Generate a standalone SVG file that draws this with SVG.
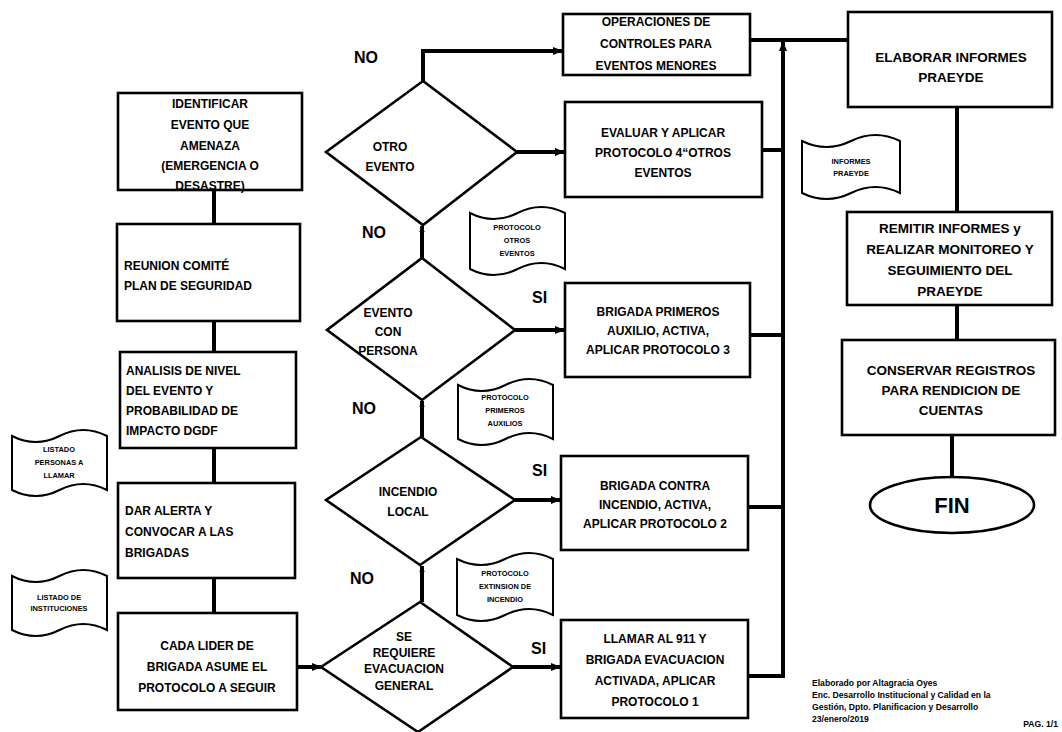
<svg xmlns="http://www.w3.org/2000/svg" width="1062" height="732" viewBox="0 0 1062 732">
<defs>
<marker id="ah" markerUnits="userSpaceOnUse" markerWidth="10" markerHeight="10" viewBox="0 0 10 10" refX="9" refY="5" orient="auto"><path d="M0,1 L10,5 L0,9 Z" fill="#000"/></marker>
<marker id="as" markerUnits="userSpaceOnUse" markerWidth="7" markerHeight="7" viewBox="0 0 10 10" refX="9" refY="5" orient="auto"><path d="M0,1 L10,5 L0,9 Z" fill="#000"/></marker>
</defs>
<style>
.box{fill:#fff;stroke:#000;stroke-width:2.6}
.doc{fill:#fff;stroke:#000;stroke-width:2}
.t{font-family:"Liberation Sans",Arial,sans-serif;font-weight:bold;font-size:12px;fill:#000}
.tm{text-anchor:middle}
.tr{font-family:"Liberation Sans",Arial,sans-serif;font-weight:bold;font-size:13.5px;fill:#000;text-anchor:middle}
.d{font-family:"Liberation Sans",Arial,sans-serif;font-weight:bold;font-size:7.4px;fill:#000;text-anchor:middle}
.lab{font-family:"Liberation Sans",Arial,sans-serif;font-weight:bold;font-size:16px;fill:#000}
.c{fill:none;stroke:#000;stroke-width:4}
.ca{fill:none;stroke:#000;stroke-width:4;marker-end:url(#ah)}
.cs{fill:none;stroke:#000;stroke-width:4;marker-end:url(#as)}
.f{font-family:"Liberation Sans",Arial,sans-serif;font-weight:bold;font-size:8.6px;fill:#000}
</style>
<rect width="1062" height="732" fill="#fff"/>

<g id="connectors">
<line class="c" x1="214" y1="190" x2="214" y2="224"/>
<line class="c" x1="214" y1="321" x2="214" y2="352"/>
<line class="c" x1="214" y1="448" x2="214" y2="483"/>
<line class="c" x1="214" y1="578" x2="214" y2="613"/>
<line class="ca" x1="297" y1="667" x2="321" y2="667"/>
<line class="cs" x1="422" y1="602" x2="422" y2="566"/>
<line class="cs" x1="422" y1="437" x2="422" y2="401"/>
<line class="cs" x1="422" y1="258" x2="422" y2="226"/>
<polyline class="ca" points="423,81 423,51 562,51"/>
<line class="ca" x1="517" y1="152" x2="564" y2="152"/>
<line class="ca" x1="515" y1="330" x2="564" y2="330"/>
<line class="ca" x1="515" y1="500" x2="560" y2="500"/>
<line class="ca" x1="513" y1="667" x2="560" y2="667"/>
<line class="c" x1="750" y1="40" x2="848" y2="40"/>
<line class="ca" x1="783" y1="678" x2="783" y2="42"/>
<line class="c" x1="762" y1="150" x2="783" y2="150"/>
<line class="c" x1="750" y1="335" x2="783" y2="335"/>
<line class="c" x1="748" y1="507" x2="783" y2="507"/>
<line class="c" x1="748" y1="676" x2="785" y2="676"/>
<line class="c" x1="957" y1="107" x2="957" y2="212"/>
<line class="c" x1="957" y1="305" x2="957" y2="340"/>
<line class="c" x1="952" y1="435" x2="952" y2="477"/>
</g>

<g id="identificar">
<rect class="box" x="118" y="93" width="184" height="97"/>
<text class="t tm" x="210" y="108">IDENTIFICAR</text>
<text class="t tm" x="210" y="129">EVENTO  QUE</text>
<text class="t tm" x="210" y="150">AMENAZA</text>
<text class="t tm" x="210" y="170">(EMERGENCIA O</text>
<text class="t tm" x="210" y="190">DESASTRE)</text>
</g>
<g id="reunion">
<rect class="box" x="117" y="224" width="183" height="97"/>
<text class="t" x="124" y="270">REUNION COMITÉ</text>
<text class="t" x="124" y="290">PLAN DE SEGURIDAD</text>
</g>
<g id="analisis">
<rect class="box" x="120" y="352" width="176" height="96"/>
<text class="t" x="126" y="375">ANALISIS DE NIVEL</text>
<text class="t" x="126" y="395">DEL EVENTO Y</text>
<text class="t" x="126" y="415">PROBABILIDAD DE</text>
<text class="t" x="126" y="435">IMPACTO DGDF</text>
</g>
<g id="dar-alerta">
<rect class="box" x="118" y="483" width="177" height="95"/>
<text class="t" x="125" y="515">DAR ALERTA Y</text>
<text class="t" x="125" y="536">CONVOCAR  A LAS</text>
<text class="t" x="125" y="557">BRIGADAS</text>
</g>
<g id="cada-lider">
<rect class="box" x="118" y="613" width="179" height="97"/>
<text class="t tm" x="207" y="650">CADA LIDER DE</text>
<text class="t tm" x="207" y="671">BRIGADA ASUME EL</text>
<text class="t tm" x="207" y="692">PROTOCOLO A SEGUIR</text>
</g>

<g id="doc-listado-personas">
<path class="doc" d="M12,436 Q35.75,448 59.5,436 T107,436 L107,490 Q83.25,478 59.5,490 T12,490 Z"/>
<text class="d" x="59" y="452">LISTADO</text>
<text class="d" x="59" y="465">PERSONAS A</text>
<text class="d" x="59" y="478">LLAMAR</text>
</g>
<g id="doc-listado-instituciones">
<path class="doc" d="M12,576 Q35.75,588 59.5,576 T107,576 L107,630 Q83.25,618 59.5,630 T12,630 Z"/>
<text class="d" x="59" y="600">LISTADO DE</text>
<text class="d" x="59" y="611">INSTITUCIONES</text>
</g>

<g id="otro-evento">
<polygon class="box" points="423,81 517,152 423,225 326,152"/>
<text class="t tm" x="390" y="151">OTRO</text>
<text class="t tm" x="390" y="171">EVENTO</text>
</g>
<g id="evento-persona">
<polygon class="box" points="422,258 515,330 422,400 327,330"/>
<text class="t tm" x="388" y="317">EVENTO</text>
<text class="t tm" x="388" y="336">CON</text>
<text class="t tm" x="388" y="355">PERSONA</text>
</g>
<g id="incendio-local">
<polygon class="box" points="421,437 515,500 420,565 326,500"/>
<text class="t tm" x="408" y="496">INCENDIO</text>
<text class="t tm" x="408" y="516">LOCAL</text>
</g>
<g id="evacuacion">
<polygon class="box" points="420,602 513,667 418,732 321,667"/>
<text class="t tm" x="404" y="641">SE</text>
<text class="t tm" x="404" y="657">REQUIERE</text>
<text class="t tm" x="404" y="673">EVACUACION</text>
<text class="t tm" x="404" y="690">GENERAL</text>
</g>

<g id="labels">
<text class="lab" x="354" y="63">NO</text>
<text class="lab" x="362" y="238">NO</text>
<text class="lab" x="352" y="414">NO</text>
<text class="lab" x="350" y="584">NO</text>
<text class="lab" x="532" y="303">SI</text>
<text class="lab" x="532" y="476">SI</text>
<text class="lab" x="531" y="654">SI</text>
</g>

<g id="doc-protocolo-otros">
<path class="doc" d="M470,213 Q493.75,225 517.5,213 T565,213 L565,269 Q541.25,257 517.5,269 T470,269 Z"/>
<text class="d" x="517" y="230">PROTOCOLO</text>
<text class="d" x="517" y="243">OTROS</text>
<text class="d" x="517" y="256">EVENTOS</text>
</g>
<g id="doc-protocolo-primeros">
<path class="doc" d="M458,385 Q481.75,397 505.5,385 T553,385 L553,439 Q529.25,427 505.5,439 T458,439 Z"/>
<text class="d" x="505" y="400">PROTOCOLO</text>
<text class="d" x="505" y="413">PRIMEROS</text>
<text class="d" x="505" y="426">AUXILIOS</text>
</g>
<g id="doc-protocolo-extinsion">
<path class="doc" d="M457,559 Q481,571 505,559 T553,559 L553,615 Q529,603 505,615 T457,615 Z"/>
<text class="d" x="505" y="576">PROTOCOLO</text>
<text class="d" x="505" y="589">EXTINSION DE</text>
<text class="d" x="505" y="602">INCENDIO</text>
</g>

<g id="operaciones">
<rect class="box" x="563" y="14" width="187" height="61"/>
<text class="t tm" x="656" y="26">OPERACIONES DE</text>
<text class="t tm" x="656" y="48">CONTROLES PARA</text>
<text class="t tm" x="656" y="70">EVENTOS MENORES</text>
</g>
<g id="evaluar">
<rect class="box" x="565" y="102" width="197" height="95"/>
<text class="t tm" x="663" y="137">EVALUAR  Y APLICAR</text>
<text class="t tm" x="663" y="157">PROTOCOLO 4“OTROS</text>
<text class="t tm" x="663" y="177">EVENTOS</text>
</g>
<g id="brigada-primeros">
<rect class="box" x="565" y="283" width="185" height="94"/>
<text class="t tm" x="658" y="316">BRIGADA  PRIMEROS</text>
<text class="t tm" x="658" y="335">AUXILIO, ACTIVA,</text>
<text class="t tm" x="658" y="354">APLICAR PROTOCOLO  3</text>
</g>
<g id="brigada-contra">
<rect class="box" x="561" y="456" width="187" height="94"/>
<text class="t tm" x="655" y="490">BRIGADA CONTRA</text>
<text class="t tm" x="655" y="509">INCENDIO, ACTIVA,</text>
<text class="t tm" x="655" y="528">APLICAR PROTOCOLO  2</text>
</g>
<g id="llamar">
<rect class="box" x="561" y="620" width="187" height="98"/>
<text class="t tm" x="655" y="643">LLAMAR  AL 911 Y</text>
<text class="t tm" x="655" y="664">BRIGADA EVACUACION</text>
<text class="t tm" x="655" y="685">ACTIVADA,  APLICAR</text>
<text class="t tm" x="655" y="706">PROTOCOLO 1</text>
</g>

<g id="elaborar">
<rect class="box" x="848" y="12" width="204" height="95"/>
<text class="tr" x="951" y="62">ELABORAR INFORMES</text>
<text class="tr" x="951" y="82">PRAEYDE</text>
</g>
<g id="doc-informes">
<path class="doc" d="M802,141 Q826.5,153 851,141 T900,141 L900,193 Q875.5,181 851,193 T802,193 Z"/>
<text class="d" x="851" y="164">INFORMES</text>
<text class="d" x="851" y="176">PRAEYDE</text>
</g>
<g id="remitir">
<rect class="box" x="847" y="212" width="205" height="93"/>
<text class="tr" x="950" y="233">REMITIR INFORMES y</text>
<text class="tr" x="950" y="254">REALIZAR  MONITOREO Y</text>
<text class="tr" x="950" y="275">SEGUIMIENTO DEL</text>
<text class="tr" x="950" y="296">PRAEYDE</text>
</g>
<g id="conservar">
<rect class="box" x="842" y="340" width="213" height="95"/>
<text class="tr" x="951" y="375">CONSERVAR REGISTROS</text>
<text class="tr" x="951" y="395">PARA RENDICION DE</text>
<text class="tr" x="951" y="415">CUENTAS</text>
</g>
<g id="fin">
<ellipse class="box" cx="952" cy="505" rx="82" ry="28"/>
<text class="tr" x="952" y="513" style="font-size:22px">FIN</text>
</g>

<g id="footer">
<text class="f" x="812" y="686">Elaborado por  Altagracia Oyes</text>
<text class="f" x="812" y="698">Enc. Desarrollo Institucional  y Calidad en la</text>
<text class="f" x="812" y="710">Gestión, Dpto. Planificacion  y Desarrollo</text>
<text class="f" x="812" y="722">23/enero/2019</text>
<text class="f" x="1058" y="727" text-anchor="end">PAG. 1/1</text>
</g>
</svg>
